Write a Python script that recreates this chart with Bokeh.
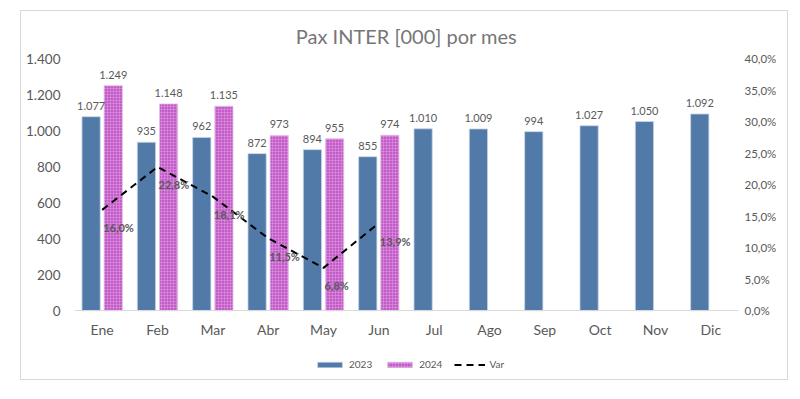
from bokeh.plotting import figure
from bokeh.models import (FactorRange, Range1d, LinearAxis, ColumnDataSource, LabelSet,
                          FixedTicker, CustomJSTickFormatter, Legend, LegendItem)
from bokeh.core.properties import value
from bokeh.transform import dodge
from bokeh.embed import file_html
from bokeh.resources import INLINE

months = ["Ene", "Feb", "Mar", "Abr", "May", "Jun", "Jul", "Ago", "Sep", "Oct", "Nov", "Dic"]
pax_2023 = [1077, 935, 962, 872, 894, 855, 1010, 1009, 994, 1027, 1050, 1092]
months_2024 = ["Ene", "Feb", "Mar", "Abr", "May", "Jun"]
pax_2024 = [1249, 1148, 1135, 973, 955, 974]
var_pct = [16.0, 22.8, 18.1, 11.5, 6.8, 13.9]
left_ticks = [0, 200, 400, 600, 800, 1000, 1200, 1400]
right_ticks = [0, 5, 10, 15, 20, 25, 30, 35, 40]

FONT = value("Lato")
BLUE = "#527aa9"
PURPLE = "#c25ac7"
GRAY_TXT = "#595959"

LEFT_MAX = 1400
RIGHT_MAX = 40
BELOW = 365  # room under zero (axis units) for month labels and legend


def thousands(v):
    return f"{v:,}".replace(",", ".")


src23 = ColumnDataSource(dict(x=months, y=pax_2023, lbl=[thousands(v) for v in pax_2023]))
src24 = ColumnDataSource(dict(x=months_2024, y=pax_2024, lbl=[thousands(v) for v in pax_2024]))
srcv = ColumnDataSource(dict(x=months_2024, y=var_pct,
                             lbl=[f"{v:.1f}%".replace(".", ",") for v in var_pct]))

p = figure(width=768, height=370, x_range=FactorRange(*months, range_padding=0),
           y_range=Range1d(-BELOW, LEFT_MAX), output_backend="svg", toolbar_location=None,
           min_border_left=53, min_border_right=51, min_border_top=46, min_border_bottom=5)
p.styles = {"border": "1px solid #d9d9d9", "margin-left": "20px", "margin-top": "10px"}
p.outline_line_color = None
p.xgrid.visible = False
p.ygrid.visible = False
p.extra_y_ranges = {"pct": Range1d(-BELOW * RIGHT_MAX / LEFT_MAX, RIGHT_MAX)}

p.title.text = "Pax INTER [000] por mes"
p.title.align = "center"
p.title.text_font = "Lato"
p.title.text_font_size = "20px"
p.title.text_font_style = "normal"
p.title.text_color = "#767676"
p.title.standoff = 21

r23 = p.vbar(x=dodge("x", -0.2, range=p.x_range), top="y", width=0.33, source=src23,
             fill_color=BLUE, line_color="#c9d6e6", line_width=0.8)
r24 = p.vbar(x=dodge("x", 0.2, range=p.x_range), top="y", width=0.33, source=src24,
             fill_color=PURPLE, line_color="#e6c6ea", line_width=0.8,
             hatch_pattern="cross", hatch_color="#dc96df", hatch_scale=3, hatch_weight=0.6)
rv = p.line(x="x", y="y", source=srcv, y_range_name="pct", line_color="black",
            line_width=2, line_dash="7 5")

p.add_layout(LabelSet(x=dodge("x", -0.2, range=p.x_range), y="y", text="lbl", source=src23,
                      text_align="center", y_offset=7, text_font=FONT,
                      text_font_size="11px", text_color=GRAY_TXT))
p.add_layout(LabelSet(x=dodge("x", 0.2, range=p.x_range), y="y", text="lbl", source=src24,
                      text_align="center", y_offset=7, text_font=FONT,
                      text_font_size="11px", text_color=GRAY_TXT))
p.add_layout(LabelSet(x="x", y="y", text="lbl", source=srcv, y_range_name="pct",
                      text_align="left", text_baseline="middle", x_offset=1, y_offset=-18,
                      text_font=FONT, text_font_size="11px", text_font_style="bold",
                      text_color=GRAY_TXT))

# left axis
la = p.yaxis[0]
la.ticker = FixedTicker(ticks=left_ticks)
la.formatter = CustomJSTickFormatter(code="return tick.toString().replace(/\\B(?=(\\d{3})+(?!\\d))/g, '.');")
la.axis_line_color = None
la.major_tick_line_color = None
la.minor_tick_line_color = None
la.major_label_text_font = "Lato"
la.major_label_text_font_size = "13.5px"
la.major_label_text_color = GRAY_TXT
la.major_label_standoff = 8

# right axis
ra = LinearAxis(y_range_name="pct", ticker=FixedTicker(ticks=right_ticks),
                formatter=CustomJSTickFormatter(code="return tick.toFixed(1).replace('.', ',') + '%';"))
ra.axis_line_color = None
ra.major_tick_line_color = None
ra.minor_tick_line_color = None
ra.major_label_text_font = "Lato"
ra.major_label_text_font_size = "11.5px"
ra.major_label_text_color = GRAY_TXT
ra.major_label_standoff = 0
p.add_layout(ra, "right")

# bottom (category) axis sits on the zero line
xa = p.xaxis[0]
xa.fixed_location = 0
xa.axis_line_color = "#d9d9d9"
xa.major_tick_line_color = None
xa.minor_tick_line_color = None
xa.major_label_text_font = "Lato"
xa.major_label_text_font_size = "14px"
xa.major_label_text_color = GRAY_TXT
xa.major_label_standoff = 4

legend = Legend(items=[LegendItem(label="2023", renderers=[r23]),
                       LegendItem(label="2024", renderers=[r24]),
                       LegendItem(label="Var", renderers=[rv])],
                orientation="horizontal", location=(240, 6),
                glyph_width=31, glyph_height=7, label_text_font="Lato",
                label_text_font_size="10px", label_text_color=GRAY_TXT,
                label_standoff=4, spacing=12, padding=0, margin=0,
                border_line_color=None, background_fill_alpha=0, label_height=12)
p.add_layout(legend)

open("out.html", "w").write(file_html(p, INLINE))
